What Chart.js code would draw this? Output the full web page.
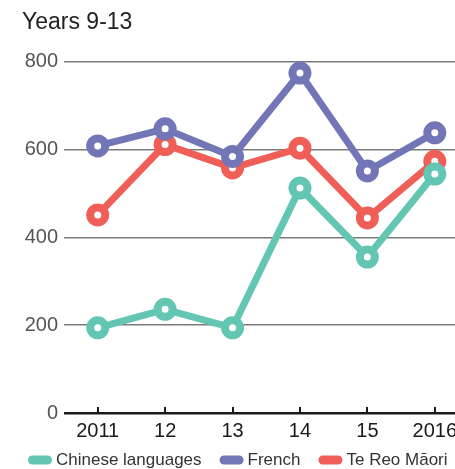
<!DOCTYPE html>
<html lang="en">
<head>
<meta charset="UTF-8">
<title>Years 9-13</title>
<script src="https://cdn.jsdelivr.net/npm/chart.js@4"></script>
<style>
  html, body { margin: 0; padding: 0; background: #fff; overflow: hidden; }
  canvas { display: block; }
</style>
</head>
<body>
<!-- canvas is wider than the window; the last column runs off the right edge -->
<canvas id="langChart" width="484" height="469"></canvas>
<script>
// School years shown along the bottom
const years = ['2011', '12', '13', '14', '15', '2016'];

// Students per language
const chineseLanguages = [194, 236, 194, 512, 355, 544];
const french = [608, 647, 584, 774, 551, 638];
const teReoMaori = [451, 611, 558, 603, 444, 573];

const yTicks = [0, 200, 400, 600, 800];

const FONT = '"Liberation Sans", Arial, sans-serif';
const TEAL = '#62c6b3';
const PURPLE = '#7276b6';
const RED = '#ef5e57';

function series(label, data, color) {
  return {
    label,
    data,
    borderColor: color,
    backgroundColor: color,
    borderWidth: 7,
    pointRadius: 7.5,
    pointBorderWidth: 8,
    pointBackgroundColor: '#fff',
    pointBorderColor: color,
    tension: 0
  };
}

// small upward tick marks sitting on the zero line
const upTicks = {
  id: 'upTicks',
  beforeDatasetsDraw(chart) {
    const x = chart.scales.x;
    const bottom = chart.chartArea.bottom;
    const ctx = chart.ctx;
    ctx.save();
    ctx.strokeStyle = '#1a1a1a';
    ctx.lineWidth = 2;
    x.ticks.forEach((t, i) => {
      const px = Math.round(x.getPixelForTick(i));
      ctx.beginPath();
      ctx.moveTo(px, bottom);
      ctx.lineTo(px, bottom - 6);
      ctx.stroke();
    });
    ctx.restore();
  }
};

// legend row with rounded colour pills
const pillLegend = {
  id: 'pillLegend',
  afterDraw(chart) {
    const ctx = chart.ctx;
    const y = 460;
    let x = 28;
    ctx.save();
    ctx.font = '17px ' + FONT;
    ctx.textBaseline = 'middle';
    ctx.textAlign = 'left';
    chart.data.datasets.forEach(ds => {
      ctx.fillStyle = ds.borderColor;
      ctx.beginPath();
      ctx.roundRect(x, y - 4.5, 24, 9, 4.5);
      ctx.fill();
      ctx.fillStyle = '#333';
      ctx.fillText(ds.label, x + 28, y);
      x += 28 + ctx.measureText(ds.label).width + 18;
    });
    ctx.restore();
  }
};

new Chart(document.getElementById('langChart'), {
  type: 'line',
  data: {
    labels: years,
    datasets: [
      series('Chinese languages', chineseLanguages, TEAL),
      series('French', french, PURPLE),
      series('Te Reo Māori', teReoMaori, RED)
    ]
  },
  options: {
    responsive: false,
    animation: false,
    layout: { padding: { left: 22, right: 1, top: 0, bottom: 20 } },
    plugins: {
      legend: { display: false },
      tooltip: { enabled: false },
      title: {
        display: true,
        text: 'Years 9-13',
        align: 'start',
        color: '#222',
        font: { family: FONT, size: 23, weight: 'normal' },
        padding: { top: 9, bottom: 25 }
      }
    },
    scales: {
      x: {
        offset: true,
        grid: { display: false, drawTicks: false },
        border: { display: false },
        ticks: {
          color: '#1a1a1a',
          padding: 6,
          maxRotation: 0,
          font: { family: FONT, size: 20 }
        }
      },
      y: {
        min: 0,
        max: 800,
        afterBuildTicks(scale) {
          scale.ticks = yTicks.map(v => ({ value: v }));
        },
        afterFit(scale) { scale.width = 42; },
        grid: {
          drawTicks: false,
          color: c => c.tick && c.tick.value === 0 ? '#1a1a1a' : '#7a7a7a',
          lineWidth: c => c.tick && c.tick.value === 0 ? 2.5 : 1.5
        },
        border: { display: false },
        ticks: {
          color: '#555',
          padding: 6,
          font: { family: FONT, size: 20 }
        }
      }
    }
  },
  plugins: [upTicks, pillLegend]
});
</script>
</body>
</html>
